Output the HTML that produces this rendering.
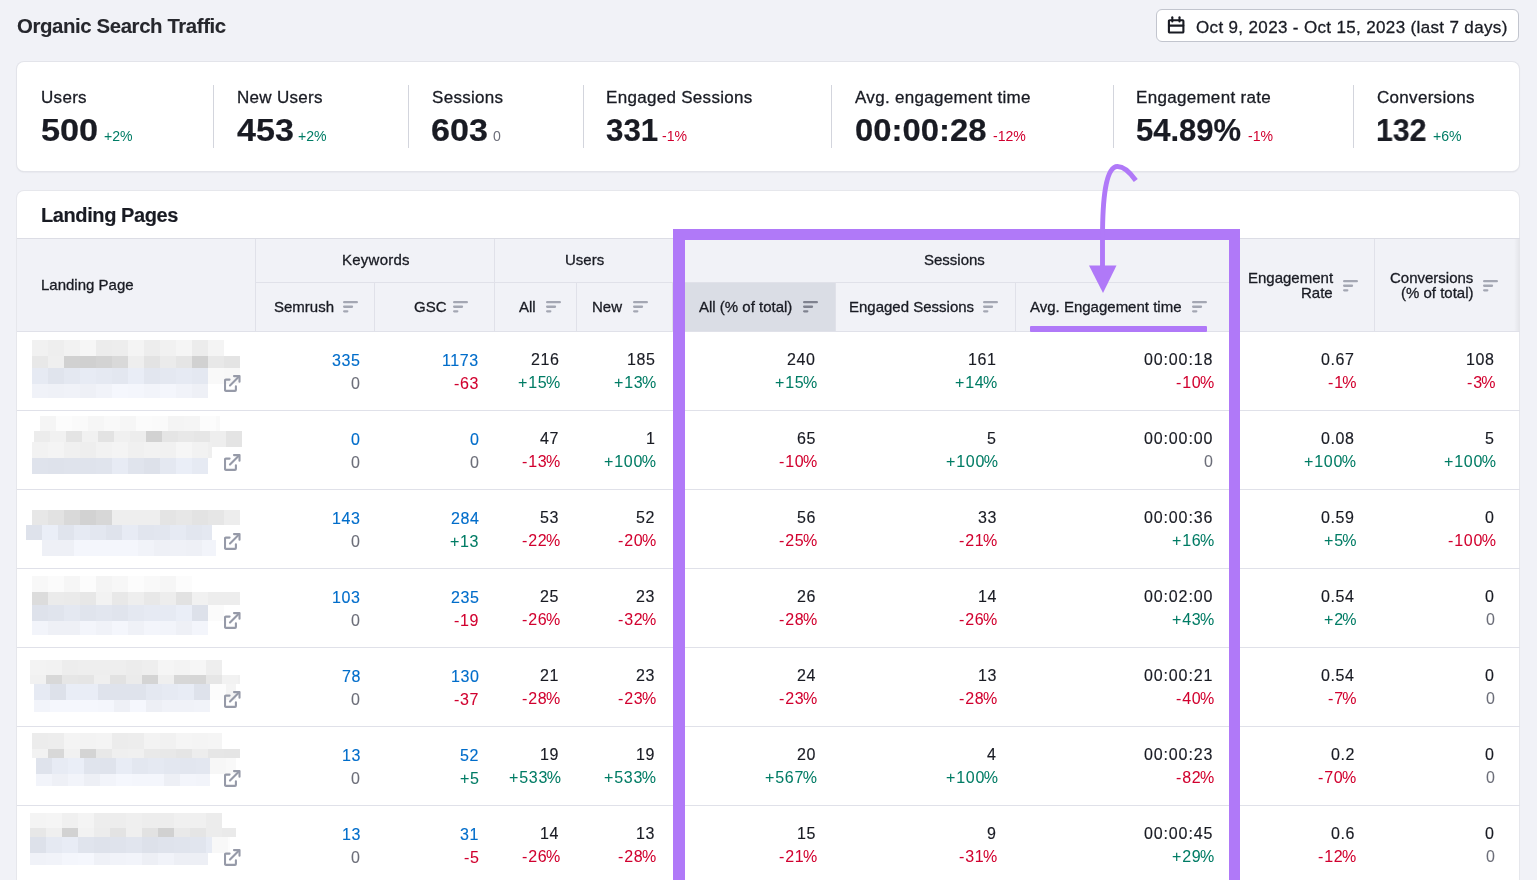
<!DOCTYPE html>
<html><head><meta charset="utf-8"><title>Organic Search Traffic</title>
<style>
html,body{margin:0;padding:0;}
body{width:1537px;height:880px;overflow:hidden;position:relative;background:#f1f2f7;font-family:"Liberation Sans", sans-serif;}
.t{position:absolute;white-space:nowrap;will-change:transform;}
.r{position:absolute;}
</style></head><body>
<div class="t" style="left:17px;top:16.03px;font-size:20.4px;line-height:20.4px;color:#26272d;font-weight:bold;letter-spacing:-0.4px;-webkit-text-stroke:0.1px #26272d;">Organic Search Traffic</div>
<div class="r" style="left:1156px;top:9px;width:361px;height:31px;border:1px solid #c2c5ce;border-radius:6px;background:#fff"></div>
<svg class="r" style="left:1167px;top:16px" width="19" height="19" viewBox="0 0 19 19"><g fill="none" stroke="#191b23" stroke-width="2.1" stroke-linecap="round"><rect x="1.9" y="4.3" width="14.5" height="12.2" rx="0.8"/><line x1="2" y1="9.6" x2="16.3" y2="9.6"/><line x1="5.3" y1="1.2" x2="5.3" y2="5.5"/><line x1="12.5" y1="1.2" x2="12.5" y2="5.5"/></g></svg>
<div class="t" style="left:1195.5px;top:18.61px;font-size:17px;line-height:17px;color:#191b23;font-weight:normal;letter-spacing:0.35px;-webkit-text-stroke:0.3px #191b23;">Oct 9, 2023 - Oct 15, 2023 (last 7 days)</div>
<div class="r" style="left:17px;top:62px;width:1502px;height:109px;background:#fff;border-radius:7px;box-shadow:0 0 0 1px #e3e4ea, 0 1px 2px rgba(25,27,35,0.12)"></div>
<div class="t" style="left:41.4px;top:88.71px;font-size:17px;line-height:17px;color:#191b23;font-weight:normal;letter-spacing:0.3px;-webkit-text-stroke:0.3px #191b23;">Users</div>
<div class="t" style="left:41.4px;top:114.96px;font-size:31px;line-height:31px;color:#191b23;font-weight:bold;-webkit-text-stroke:0.2px #191b23;transform:scaleX(1.105);transform-origin:0 0;">500</div>
<div class="t" style="left:104.3px;top:129.26px;font-size:14.1px;line-height:14.1px;color:#007c65;font-weight:normal;">+2%</div>
<div class="t" style="left:236.6px;top:88.71px;font-size:17px;line-height:17px;color:#191b23;font-weight:normal;letter-spacing:0.3px;-webkit-text-stroke:0.3px #191b23;">New Users</div>
<div class="t" style="left:236.6px;top:114.96px;font-size:31px;line-height:31px;color:#191b23;font-weight:bold;-webkit-text-stroke:0.2px #191b23;transform:scaleX(1.1);transform-origin:0 0;">453</div>
<div class="t" style="left:298.1px;top:129.26px;font-size:14.1px;line-height:14.1px;color:#007c65;font-weight:normal;">+2%</div>
<div class="t" style="left:431.7px;top:88.71px;font-size:17px;line-height:17px;color:#191b23;font-weight:normal;letter-spacing:0.3px;-webkit-text-stroke:0.3px #191b23;">Sessions</div>
<div class="t" style="left:430.7px;top:114.96px;font-size:31px;line-height:31px;color:#191b23;font-weight:bold;-webkit-text-stroke:0.2px #191b23;transform:scaleX(1.1);transform-origin:0 0;">603</div>
<div class="t" style="left:493.2px;top:129.26px;font-size:14.1px;line-height:14.1px;color:#6c6e79;font-weight:normal;">0</div>
<div class="t" style="left:606.4px;top:88.71px;font-size:17px;line-height:17px;color:#191b23;font-weight:normal;letter-spacing:0.3px;-webkit-text-stroke:0.3px #191b23;">Engaged Sessions</div>
<div class="t" style="left:606.4px;top:114.96px;font-size:31px;line-height:31px;color:#191b23;font-weight:bold;-webkit-text-stroke:0.2px #191b23;transform:scaleX(1.01);transform-origin:0 0;">331</div>
<div class="t" style="left:662.2px;top:129.26px;font-size:14.1px;line-height:14.1px;color:#d1002f;font-weight:normal;">-1%</div>
<div class="t" style="left:855px;top:88.71px;font-size:17px;line-height:17px;color:#191b23;font-weight:normal;letter-spacing:0.3px;-webkit-text-stroke:0.3px #191b23;">Avg. engagement time</div>
<div class="t" style="left:855px;top:114.96px;font-size:31px;line-height:31px;color:#191b23;font-weight:bold;-webkit-text-stroke:0.2px #191b23;transform:scaleX(1.06);transform-origin:0 0;">00:00:28</div>
<div class="t" style="left:992.5px;top:129.26px;font-size:14.1px;line-height:14.1px;color:#d1002f;font-weight:normal;">-12%</div>
<div class="t" style="left:1136px;top:88.71px;font-size:17px;line-height:17px;color:#191b23;font-weight:normal;letter-spacing:0.3px;-webkit-text-stroke:0.3px #191b23;">Engagement rate</div>
<div class="t" style="left:1136px;top:114.96px;font-size:31px;line-height:31px;color:#191b23;font-weight:bold;-webkit-text-stroke:0.2px #191b23;transform:scaleX(1.0);transform-origin:0 0;">54.89%</div>
<div class="t" style="left:1248px;top:129.26px;font-size:14.1px;line-height:14.1px;color:#d1002f;font-weight:normal;">-1%</div>
<div class="t" style="left:1376.8px;top:88.71px;font-size:17px;line-height:17px;color:#191b23;font-weight:normal;letter-spacing:0.3px;-webkit-text-stroke:0.3px #191b23;">Conversions</div>
<div class="t" style="left:1375.8px;top:114.96px;font-size:31px;line-height:31px;color:#191b23;font-weight:bold;-webkit-text-stroke:0.2px #191b23;transform:scaleX(0.975);transform-origin:0 0;">132</div>
<div class="t" style="left:1432.6px;top:129.26px;font-size:14.1px;line-height:14.1px;color:#007c65;font-weight:normal;">+6%</div>
<div class="r" style="left:213px;top:85px;width:1px;height:63px;background:#d3d5dd;"></div>
<div class="r" style="left:408px;top:85px;width:1px;height:63px;background:#d3d5dd;"></div>
<div class="r" style="left:583px;top:85px;width:1px;height:63px;background:#d3d5dd;"></div>
<div class="r" style="left:831px;top:85px;width:1px;height:63px;background:#d3d5dd;"></div>
<div class="r" style="left:1113px;top:85px;width:1px;height:63px;background:#d3d5dd;"></div>
<div class="r" style="left:1353px;top:85px;width:1px;height:63px;background:#d3d5dd;"></div>
<div class="r" style="left:17px;top:191px;width:1502px;height:720px;background:#fff;border-radius:7px;box-shadow:0 0 0 1px #e6e7ec"></div>
<div class="t" style="left:41.3px;top:204.97px;font-size:20px;line-height:20px;color:#191b23;font-weight:bold;letter-spacing:-0.4px;-webkit-text-stroke:0.15px #191b23;">Landing Pages</div>
<div class="r" style="left:17px;top:239px;width:1503px;height:92px;background:#f1f2f7;"></div>
<div class="r" style="left:17px;top:238px;width:1503px;height:1px;background:#dcdde5;"></div>
<div class="r" style="left:17px;top:331px;width:1503px;height:1px;background:#e0e1e9;"></div>
<div class="r" style="left:256px;top:282px;width:978px;height:1px;background:#e0e1e9;"></div>
<div class="r" style="left:684px;top:283px;width:151px;height:48px;background:#dadde5;"></div>
<div class="r" style="left:255px;top:239px;width:1px;height:92px;background:#e0e1e9;"></div>
<div class="r" style="left:494px;top:239px;width:1px;height:92px;background:#e0e1e9;"></div>
<div class="r" style="left:1231px;top:239px;width:1px;height:92px;background:#e0e1e9;"></div>
<div class="r" style="left:1374px;top:239px;width:1px;height:92px;background:#e0e1e9;"></div>
<div class="r" style="left:374px;top:283px;width:1px;height:48px;background:#e0e1e9;"></div>
<div class="r" style="left:576px;top:283px;width:1px;height:48px;background:#e0e1e9;"></div>
<div class="r" style="left:672px;top:283px;width:1px;height:48px;background:#e0e1e9;"></div>
<div class="r" style="left:835px;top:283px;width:1px;height:48px;background:#e0e1e9;"></div>
<div class="r" style="left:1015px;top:283px;width:1px;height:48px;background:#e0e1e9;"></div>
<div class="r" style="left:1514px;top:239px;width:6px;height:92px;background:linear-gradient(to right, rgba(0,0,0,0), rgba(0,0,0,0.06))"></div>
<div class="t" style="left:41.3px;top:276.60px;font-size:15px;line-height:15px;color:#191b23;font-weight:normal;-webkit-text-stroke:0.3px #191b23;">Landing Page</div>
<div class="t" style="left:341.5px;top:252.10px;font-size:15px;line-height:15px;color:#191b23;font-weight:normal;letter-spacing:0.25px;-webkit-text-stroke:0.3px #191b23;">Keywords</div>
<div class="t" style="left:564.5px;top:252.30px;font-size:15px;line-height:15px;color:#191b23;font-weight:normal;-webkit-text-stroke:0.3px #191b23;">Users</div>
<div class="t" style="left:923.5px;top:252.30px;font-size:15px;line-height:15px;color:#191b23;font-weight:normal;-webkit-text-stroke:0.3px #191b23;">Sessions</div>
<div class="t" style="left:273.8px;top:299.30px;font-size:15px;line-height:15px;color:#191b23;font-weight:normal;-webkit-text-stroke:0.3px #191b23;">Semrush</div>
<svg class="r" style="left:342.5px;top:301.4px" width="15" height="13" viewBox="0 0 15 13"><g stroke="#a4a7b3" stroke-width="2.3" stroke-linecap="round"><line x1="1.15" y1="1.15" x2="13.85" y2="1.15"/><line x1="1.15" y1="5.75" x2="9" y2="5.75"/><line x1="1.15" y1="10.35" x2="4.3" y2="10.35"/></g></svg>
<div class="t" style="left:413.8px;top:299.30px;font-size:15px;line-height:15px;color:#191b23;font-weight:normal;-webkit-text-stroke:0.3px #191b23;">GSC</div>
<svg class="r" style="left:453.3px;top:301.4px" width="15" height="13" viewBox="0 0 15 13"><g stroke="#a4a7b3" stroke-width="2.3" stroke-linecap="round"><line x1="1.15" y1="1.15" x2="13.85" y2="1.15"/><line x1="1.15" y1="5.75" x2="9" y2="5.75"/><line x1="1.15" y1="10.35" x2="4.3" y2="10.35"/></g></svg>
<div class="t" style="left:519px;top:299.30px;font-size:15px;line-height:15px;color:#191b23;font-weight:normal;-webkit-text-stroke:0.3px #191b23;">All</div>
<svg class="r" style="left:545.5px;top:301.4px" width="15" height="13" viewBox="0 0 15 13"><g stroke="#a4a7b3" stroke-width="2.3" stroke-linecap="round"><line x1="1.15" y1="1.15" x2="13.85" y2="1.15"/><line x1="1.15" y1="5.75" x2="9" y2="5.75"/><line x1="1.15" y1="10.35" x2="4.3" y2="10.35"/></g></svg>
<div class="t" style="left:592px;top:299.30px;font-size:15px;line-height:15px;color:#191b23;font-weight:normal;-webkit-text-stroke:0.3px #191b23;">New</div>
<svg class="r" style="left:632.8px;top:301.4px" width="15" height="13" viewBox="0 0 15 13"><g stroke="#a4a7b3" stroke-width="2.3" stroke-linecap="round"><line x1="1.15" y1="1.15" x2="13.85" y2="1.15"/><line x1="1.15" y1="5.75" x2="9" y2="5.75"/><line x1="1.15" y1="10.35" x2="4.3" y2="10.35"/></g></svg>
<div class="t" style="left:698.6px;top:299.30px;font-size:15px;line-height:15px;color:#191b23;font-weight:normal;-webkit-text-stroke:0.3px #191b23;">All (% of total)</div>
<svg class="r" style="left:802.5px;top:301.4px" width="15" height="13" viewBox="0 0 15 13"><g stroke="#7f828f" stroke-width="2.3" stroke-linecap="round"><line x1="1.15" y1="1.15" x2="13.85" y2="1.15"/><line x1="1.15" y1="5.75" x2="9" y2="5.75"/><line x1="1.15" y1="10.35" x2="4.3" y2="10.35"/></g></svg>
<div class="t" style="left:849.3px;top:299.30px;font-size:15px;line-height:15px;color:#191b23;font-weight:normal;-webkit-text-stroke:0.3px #191b23;">Engaged Sessions</div>
<svg class="r" style="left:983.2px;top:301.4px" width="15" height="13" viewBox="0 0 15 13"><g stroke="#a4a7b3" stroke-width="2.3" stroke-linecap="round"><line x1="1.15" y1="1.15" x2="13.85" y2="1.15"/><line x1="1.15" y1="5.75" x2="9" y2="5.75"/><line x1="1.15" y1="10.35" x2="4.3" y2="10.35"/></g></svg>
<div class="t" style="left:1030px;top:299.30px;font-size:15px;line-height:15px;color:#191b23;font-weight:normal;-webkit-text-stroke:0.3px #191b23;">Avg. Engagement time</div>
<svg class="r" style="left:1191.7px;top:301.4px" width="15" height="13" viewBox="0 0 15 13"><g stroke="#a4a7b3" stroke-width="2.3" stroke-linecap="round"><line x1="1.15" y1="1.15" x2="13.85" y2="1.15"/><line x1="1.15" y1="5.75" x2="9" y2="5.75"/><line x1="1.15" y1="10.35" x2="4.3" y2="10.35"/></g></svg>
<div class="t" style="right:203.90px;text-align:right;top:270.20px;font-size:15px;line-height:15px;color:#191b23;font-weight:normal;-webkit-text-stroke:0.3px #191b23;">Engagement</div>
<div class="t" style="right:203.90px;text-align:right;top:285.10px;font-size:15px;line-height:15px;color:#191b23;font-weight:normal;-webkit-text-stroke:0.3px #191b23;">Rate</div>
<svg class="r" style="left:1343px;top:279.8px" width="15" height="13" viewBox="0 0 15 13"><g stroke="#a4a7b3" stroke-width="2.3" stroke-linecap="round"><line x1="1.15" y1="1.15" x2="13.85" y2="1.15"/><line x1="1.15" y1="5.75" x2="9" y2="5.75"/><line x1="1.15" y1="10.35" x2="4.3" y2="10.35"/></g></svg>
<div class="t" style="right:63.60px;text-align:right;top:270.20px;font-size:15px;line-height:15px;color:#191b23;font-weight:normal;-webkit-text-stroke:0.3px #191b23;">Conversions</div>
<div class="t" style="right:63.60px;text-align:right;top:285.10px;font-size:15px;line-height:15px;color:#191b23;font-weight:normal;-webkit-text-stroke:0.3px #191b23;">(% of total)</div>
<svg class="r" style="left:1482.7px;top:279.8px" width="15" height="13" viewBox="0 0 15 13"><g stroke="#a4a7b3" stroke-width="2.3" stroke-linecap="round"><line x1="1.15" y1="1.15" x2="13.85" y2="1.15"/><line x1="1.15" y1="5.75" x2="9" y2="5.75"/><line x1="1.15" y1="10.35" x2="4.3" y2="10.35"/></g></svg>
<div class="t" style="right:1176.40px;text-align:right;top:352.96px;font-size:16px;line-height:16px;color:#006dca;font-weight:normal;letter-spacing:0.6px;-webkit-text-stroke:0.15px #006dca;">335</div>
<div class="t" style="right:1176.40px;text-align:right;top:376.46px;font-size:16px;line-height:16px;color:#6c6e79;font-weight:normal;letter-spacing:0.6px;-webkit-text-stroke:0.1px #6c6e79;">0</div>
<div class="t" style="right:1057.90px;text-align:right;top:352.96px;font-size:16px;line-height:16px;color:#006dca;font-weight:normal;letter-spacing:0.6px;-webkit-text-stroke:0.15px #006dca;">1173</div>
<div class="t" style="right:1057.90px;text-align:right;top:376.46px;font-size:16px;line-height:16px;color:#d1002f;font-weight:normal;letter-spacing:0.6px;-webkit-text-stroke:0.1px #d1002f;">-63</div>
<div class="t" style="right:977.60px;text-align:right;top:351.86px;font-size:16px;line-height:16px;color:#191b23;font-weight:normal;letter-spacing:0.6px;-webkit-text-stroke:0.15px #191b23;">216</div>
<div class="t" style="right:976.60px;text-align:right;top:374.76px;font-size:16px;line-height:16px;color:#007c65;font-weight:normal;-webkit-text-stroke:0.05px #007c65;"><span style="letter-spacing:0.8px">+15</span><span style="margin-left:-1.6px">%</span></div>
<div class="t" style="right:882.00px;text-align:right;top:351.86px;font-size:16px;line-height:16px;color:#191b23;font-weight:normal;letter-spacing:0.6px;-webkit-text-stroke:0.15px #191b23;">185</div>
<div class="t" style="right:881.00px;text-align:right;top:374.76px;font-size:16px;line-height:16px;color:#007c65;font-weight:normal;-webkit-text-stroke:0.05px #007c65;"><span style="letter-spacing:0.8px">+13</span><span style="margin-left:-1.6px">%</span></div>
<div class="t" style="right:721.20px;text-align:right;top:351.86px;font-size:16px;line-height:16px;color:#191b23;font-weight:normal;letter-spacing:0.6px;-webkit-text-stroke:0.15px #191b23;">240</div>
<div class="t" style="right:720.20px;text-align:right;top:374.76px;font-size:16px;line-height:16px;color:#007c65;font-weight:normal;-webkit-text-stroke:0.05px #007c65;"><span style="letter-spacing:0.8px">+15</span><span style="margin-left:-1.6px">%</span></div>
<div class="t" style="right:540.50px;text-align:right;top:351.86px;font-size:16px;line-height:16px;color:#191b23;font-weight:normal;letter-spacing:0.6px;-webkit-text-stroke:0.15px #191b23;">161</div>
<div class="t" style="right:539.50px;text-align:right;top:374.76px;font-size:16px;line-height:16px;color:#007c65;font-weight:normal;-webkit-text-stroke:0.05px #007c65;"><span style="letter-spacing:0.8px">+14</span><span style="margin-left:-1.6px">%</span></div>
<div class="t" style="right:323.43px;text-align:right;top:351.86px;font-size:16px;line-height:16px;color:#191b23;font-weight:normal;letter-spacing:0.87px;-webkit-text-stroke:0.15px #191b23;">00:00:18</div>
<div class="t" style="right:322.70px;text-align:right;top:374.76px;font-size:16px;line-height:16px;color:#d1002f;font-weight:normal;-webkit-text-stroke:0.05px #d1002f;"><span style="letter-spacing:0.8px">-10</span><span style="margin-left:-1.6px">%</span></div>
<div class="t" style="right:182.00px;text-align:right;top:351.86px;font-size:16px;line-height:16px;color:#191b23;font-weight:normal;letter-spacing:0.6px;-webkit-text-stroke:0.15px #191b23;">0.67</div>
<div class="t" style="right:181.00px;text-align:right;top:374.76px;font-size:16px;line-height:16px;color:#d1002f;font-weight:normal;-webkit-text-stroke:0.05px #d1002f;"><span style="letter-spacing:0.8px">-1</span><span style="margin-left:-1.6px">%</span></div>
<div class="t" style="right:42.50px;text-align:right;top:351.86px;font-size:16px;line-height:16px;color:#191b23;font-weight:normal;letter-spacing:0.6px;-webkit-text-stroke:0.15px #191b23;">108</div>
<div class="t" style="right:41.50px;text-align:right;top:374.76px;font-size:16px;line-height:16px;color:#d1002f;font-weight:normal;-webkit-text-stroke:0.05px #d1002f;"><span style="letter-spacing:0.8px">-3</span><span style="margin-left:-1.6px">%</span></div>
<div class="r" style="left:17px;top:410px;width:1503px;height:1px;background:#e0e1e9;"></div>
<div class="t" style="right:1176.40px;text-align:right;top:431.96px;font-size:16px;line-height:16px;color:#006dca;font-weight:normal;letter-spacing:0.6px;-webkit-text-stroke:0.15px #006dca;">0</div>
<div class="t" style="right:1176.40px;text-align:right;top:455.46px;font-size:16px;line-height:16px;color:#6c6e79;font-weight:normal;letter-spacing:0.6px;-webkit-text-stroke:0.1px #6c6e79;">0</div>
<div class="t" style="right:1057.90px;text-align:right;top:431.96px;font-size:16px;line-height:16px;color:#006dca;font-weight:normal;letter-spacing:0.6px;-webkit-text-stroke:0.15px #006dca;">0</div>
<div class="t" style="right:1057.90px;text-align:right;top:455.46px;font-size:16px;line-height:16px;color:#6c6e79;font-weight:normal;letter-spacing:0.6px;-webkit-text-stroke:0.1px #6c6e79;">0</div>
<div class="t" style="right:977.60px;text-align:right;top:430.86px;font-size:16px;line-height:16px;color:#191b23;font-weight:normal;letter-spacing:0.6px;-webkit-text-stroke:0.15px #191b23;">47</div>
<div class="t" style="right:976.60px;text-align:right;top:453.76px;font-size:16px;line-height:16px;color:#d1002f;font-weight:normal;-webkit-text-stroke:0.05px #d1002f;"><span style="letter-spacing:0.8px">-13</span><span style="margin-left:-1.6px">%</span></div>
<div class="t" style="right:882.00px;text-align:right;top:430.86px;font-size:16px;line-height:16px;color:#191b23;font-weight:normal;letter-spacing:0.6px;-webkit-text-stroke:0.15px #191b23;">1</div>
<div class="t" style="right:881.00px;text-align:right;top:453.76px;font-size:16px;line-height:16px;color:#007c65;font-weight:normal;-webkit-text-stroke:0.05px #007c65;"><span style="letter-spacing:0.8px">+100</span><span style="margin-left:-1.6px">%</span></div>
<div class="t" style="right:721.20px;text-align:right;top:430.86px;font-size:16px;line-height:16px;color:#191b23;font-weight:normal;letter-spacing:0.6px;-webkit-text-stroke:0.15px #191b23;">65</div>
<div class="t" style="right:720.20px;text-align:right;top:453.76px;font-size:16px;line-height:16px;color:#d1002f;font-weight:normal;-webkit-text-stroke:0.05px #d1002f;"><span style="letter-spacing:0.8px">-10</span><span style="margin-left:-1.6px">%</span></div>
<div class="t" style="right:540.50px;text-align:right;top:430.86px;font-size:16px;line-height:16px;color:#191b23;font-weight:normal;letter-spacing:0.6px;-webkit-text-stroke:0.15px #191b23;">5</div>
<div class="t" style="right:539.50px;text-align:right;top:453.76px;font-size:16px;line-height:16px;color:#007c65;font-weight:normal;-webkit-text-stroke:0.05px #007c65;"><span style="letter-spacing:0.8px">+100</span><span style="margin-left:-1.6px">%</span></div>
<div class="t" style="right:323.43px;text-align:right;top:430.86px;font-size:16px;line-height:16px;color:#191b23;font-weight:normal;letter-spacing:0.87px;-webkit-text-stroke:0.15px #191b23;">00:00:00</div>
<div class="t" style="right:323.10px;text-align:right;top:453.76px;font-size:16px;line-height:16px;color:#6c6e79;font-weight:normal;letter-spacing:0.6px;-webkit-text-stroke:0.05px #6c6e79;">0</div>
<div class="t" style="right:182.00px;text-align:right;top:430.86px;font-size:16px;line-height:16px;color:#191b23;font-weight:normal;letter-spacing:0.6px;-webkit-text-stroke:0.15px #191b23;">0.08</div>
<div class="t" style="right:181.00px;text-align:right;top:453.76px;font-size:16px;line-height:16px;color:#007c65;font-weight:normal;-webkit-text-stroke:0.05px #007c65;"><span style="letter-spacing:0.8px">+100</span><span style="margin-left:-1.6px">%</span></div>
<div class="t" style="right:42.50px;text-align:right;top:430.86px;font-size:16px;line-height:16px;color:#191b23;font-weight:normal;letter-spacing:0.6px;-webkit-text-stroke:0.15px #191b23;">5</div>
<div class="t" style="right:41.50px;text-align:right;top:453.76px;font-size:16px;line-height:16px;color:#007c65;font-weight:normal;-webkit-text-stroke:0.05px #007c65;"><span style="letter-spacing:0.8px">+100</span><span style="margin-left:-1.6px">%</span></div>
<div class="r" style="left:17px;top:489px;width:1503px;height:1px;background:#e0e1e9;"></div>
<div class="t" style="right:1176.40px;text-align:right;top:510.96px;font-size:16px;line-height:16px;color:#006dca;font-weight:normal;letter-spacing:0.6px;-webkit-text-stroke:0.15px #006dca;">143</div>
<div class="t" style="right:1176.40px;text-align:right;top:534.46px;font-size:16px;line-height:16px;color:#6c6e79;font-weight:normal;letter-spacing:0.6px;-webkit-text-stroke:0.1px #6c6e79;">0</div>
<div class="t" style="right:1057.90px;text-align:right;top:510.96px;font-size:16px;line-height:16px;color:#006dca;font-weight:normal;letter-spacing:0.6px;-webkit-text-stroke:0.15px #006dca;">284</div>
<div class="t" style="right:1057.90px;text-align:right;top:534.46px;font-size:16px;line-height:16px;color:#007c65;font-weight:normal;letter-spacing:0.6px;-webkit-text-stroke:0.1px #007c65;">+13</div>
<div class="t" style="right:977.60px;text-align:right;top:509.86px;font-size:16px;line-height:16px;color:#191b23;font-weight:normal;letter-spacing:0.6px;-webkit-text-stroke:0.15px #191b23;">53</div>
<div class="t" style="right:976.60px;text-align:right;top:532.76px;font-size:16px;line-height:16px;color:#d1002f;font-weight:normal;-webkit-text-stroke:0.05px #d1002f;"><span style="letter-spacing:0.8px">-22</span><span style="margin-left:-1.6px">%</span></div>
<div class="t" style="right:882.00px;text-align:right;top:509.86px;font-size:16px;line-height:16px;color:#191b23;font-weight:normal;letter-spacing:0.6px;-webkit-text-stroke:0.15px #191b23;">52</div>
<div class="t" style="right:881.00px;text-align:right;top:532.76px;font-size:16px;line-height:16px;color:#d1002f;font-weight:normal;-webkit-text-stroke:0.05px #d1002f;"><span style="letter-spacing:0.8px">-20</span><span style="margin-left:-1.6px">%</span></div>
<div class="t" style="right:721.20px;text-align:right;top:509.86px;font-size:16px;line-height:16px;color:#191b23;font-weight:normal;letter-spacing:0.6px;-webkit-text-stroke:0.15px #191b23;">56</div>
<div class="t" style="right:720.20px;text-align:right;top:532.76px;font-size:16px;line-height:16px;color:#d1002f;font-weight:normal;-webkit-text-stroke:0.05px #d1002f;"><span style="letter-spacing:0.8px">-25</span><span style="margin-left:-1.6px">%</span></div>
<div class="t" style="right:540.50px;text-align:right;top:509.86px;font-size:16px;line-height:16px;color:#191b23;font-weight:normal;letter-spacing:0.6px;-webkit-text-stroke:0.15px #191b23;">33</div>
<div class="t" style="right:539.50px;text-align:right;top:532.76px;font-size:16px;line-height:16px;color:#d1002f;font-weight:normal;-webkit-text-stroke:0.05px #d1002f;"><span style="letter-spacing:0.8px">-21</span><span style="margin-left:-1.6px">%</span></div>
<div class="t" style="right:323.43px;text-align:right;top:509.86px;font-size:16px;line-height:16px;color:#191b23;font-weight:normal;letter-spacing:0.87px;-webkit-text-stroke:0.15px #191b23;">00:00:36</div>
<div class="t" style="right:322.70px;text-align:right;top:532.76px;font-size:16px;line-height:16px;color:#007c65;font-weight:normal;-webkit-text-stroke:0.05px #007c65;"><span style="letter-spacing:0.8px">+16</span><span style="margin-left:-1.6px">%</span></div>
<div class="t" style="right:182.00px;text-align:right;top:509.86px;font-size:16px;line-height:16px;color:#191b23;font-weight:normal;letter-spacing:0.6px;-webkit-text-stroke:0.15px #191b23;">0.59</div>
<div class="t" style="right:181.00px;text-align:right;top:532.76px;font-size:16px;line-height:16px;color:#007c65;font-weight:normal;-webkit-text-stroke:0.05px #007c65;"><span style="letter-spacing:0.8px">+5</span><span style="margin-left:-1.6px">%</span></div>
<div class="t" style="right:42.50px;text-align:right;top:509.86px;font-size:16px;line-height:16px;color:#191b23;font-weight:normal;letter-spacing:0.6px;-webkit-text-stroke:0.15px #191b23;">0</div>
<div class="t" style="right:41.50px;text-align:right;top:532.76px;font-size:16px;line-height:16px;color:#d1002f;font-weight:normal;-webkit-text-stroke:0.05px #d1002f;"><span style="letter-spacing:0.8px">-100</span><span style="margin-left:-1.6px">%</span></div>
<div class="r" style="left:17px;top:568px;width:1503px;height:1px;background:#e0e1e9;"></div>
<div class="t" style="right:1176.40px;text-align:right;top:589.96px;font-size:16px;line-height:16px;color:#006dca;font-weight:normal;letter-spacing:0.6px;-webkit-text-stroke:0.15px #006dca;">103</div>
<div class="t" style="right:1176.40px;text-align:right;top:613.46px;font-size:16px;line-height:16px;color:#6c6e79;font-weight:normal;letter-spacing:0.6px;-webkit-text-stroke:0.1px #6c6e79;">0</div>
<div class="t" style="right:1057.90px;text-align:right;top:589.96px;font-size:16px;line-height:16px;color:#006dca;font-weight:normal;letter-spacing:0.6px;-webkit-text-stroke:0.15px #006dca;">235</div>
<div class="t" style="right:1057.90px;text-align:right;top:613.46px;font-size:16px;line-height:16px;color:#d1002f;font-weight:normal;letter-spacing:0.6px;-webkit-text-stroke:0.1px #d1002f;">-19</div>
<div class="t" style="right:977.60px;text-align:right;top:588.86px;font-size:16px;line-height:16px;color:#191b23;font-weight:normal;letter-spacing:0.6px;-webkit-text-stroke:0.15px #191b23;">25</div>
<div class="t" style="right:976.60px;text-align:right;top:611.76px;font-size:16px;line-height:16px;color:#d1002f;font-weight:normal;-webkit-text-stroke:0.05px #d1002f;"><span style="letter-spacing:0.8px">-26</span><span style="margin-left:-1.6px">%</span></div>
<div class="t" style="right:882.00px;text-align:right;top:588.86px;font-size:16px;line-height:16px;color:#191b23;font-weight:normal;letter-spacing:0.6px;-webkit-text-stroke:0.15px #191b23;">23</div>
<div class="t" style="right:881.00px;text-align:right;top:611.76px;font-size:16px;line-height:16px;color:#d1002f;font-weight:normal;-webkit-text-stroke:0.05px #d1002f;"><span style="letter-spacing:0.8px">-32</span><span style="margin-left:-1.6px">%</span></div>
<div class="t" style="right:721.20px;text-align:right;top:588.86px;font-size:16px;line-height:16px;color:#191b23;font-weight:normal;letter-spacing:0.6px;-webkit-text-stroke:0.15px #191b23;">26</div>
<div class="t" style="right:720.20px;text-align:right;top:611.76px;font-size:16px;line-height:16px;color:#d1002f;font-weight:normal;-webkit-text-stroke:0.05px #d1002f;"><span style="letter-spacing:0.8px">-28</span><span style="margin-left:-1.6px">%</span></div>
<div class="t" style="right:540.50px;text-align:right;top:588.86px;font-size:16px;line-height:16px;color:#191b23;font-weight:normal;letter-spacing:0.6px;-webkit-text-stroke:0.15px #191b23;">14</div>
<div class="t" style="right:539.50px;text-align:right;top:611.76px;font-size:16px;line-height:16px;color:#d1002f;font-weight:normal;-webkit-text-stroke:0.05px #d1002f;"><span style="letter-spacing:0.8px">-26</span><span style="margin-left:-1.6px">%</span></div>
<div class="t" style="right:323.43px;text-align:right;top:588.86px;font-size:16px;line-height:16px;color:#191b23;font-weight:normal;letter-spacing:0.87px;-webkit-text-stroke:0.15px #191b23;">00:02:00</div>
<div class="t" style="right:322.70px;text-align:right;top:611.76px;font-size:16px;line-height:16px;color:#007c65;font-weight:normal;-webkit-text-stroke:0.05px #007c65;"><span style="letter-spacing:0.8px">+43</span><span style="margin-left:-1.6px">%</span></div>
<div class="t" style="right:182.00px;text-align:right;top:588.86px;font-size:16px;line-height:16px;color:#191b23;font-weight:normal;letter-spacing:0.6px;-webkit-text-stroke:0.15px #191b23;">0.54</div>
<div class="t" style="right:181.00px;text-align:right;top:611.76px;font-size:16px;line-height:16px;color:#007c65;font-weight:normal;-webkit-text-stroke:0.05px #007c65;"><span style="letter-spacing:0.8px">+2</span><span style="margin-left:-1.6px">%</span></div>
<div class="t" style="right:42.50px;text-align:right;top:588.86px;font-size:16px;line-height:16px;color:#191b23;font-weight:normal;letter-spacing:0.6px;-webkit-text-stroke:0.15px #191b23;">0</div>
<div class="t" style="right:41.90px;text-align:right;top:611.76px;font-size:16px;line-height:16px;color:#6c6e79;font-weight:normal;letter-spacing:0.6px;-webkit-text-stroke:0.05px #6c6e79;">0</div>
<div class="r" style="left:17px;top:647px;width:1503px;height:1px;background:#e0e1e9;"></div>
<div class="t" style="right:1176.40px;text-align:right;top:668.96px;font-size:16px;line-height:16px;color:#006dca;font-weight:normal;letter-spacing:0.6px;-webkit-text-stroke:0.15px #006dca;">78</div>
<div class="t" style="right:1176.40px;text-align:right;top:692.46px;font-size:16px;line-height:16px;color:#6c6e79;font-weight:normal;letter-spacing:0.6px;-webkit-text-stroke:0.1px #6c6e79;">0</div>
<div class="t" style="right:1057.90px;text-align:right;top:668.96px;font-size:16px;line-height:16px;color:#006dca;font-weight:normal;letter-spacing:0.6px;-webkit-text-stroke:0.15px #006dca;">130</div>
<div class="t" style="right:1057.90px;text-align:right;top:692.46px;font-size:16px;line-height:16px;color:#d1002f;font-weight:normal;letter-spacing:0.6px;-webkit-text-stroke:0.1px #d1002f;">-37</div>
<div class="t" style="right:977.60px;text-align:right;top:667.86px;font-size:16px;line-height:16px;color:#191b23;font-weight:normal;letter-spacing:0.6px;-webkit-text-stroke:0.15px #191b23;">21</div>
<div class="t" style="right:976.60px;text-align:right;top:690.76px;font-size:16px;line-height:16px;color:#d1002f;font-weight:normal;-webkit-text-stroke:0.05px #d1002f;"><span style="letter-spacing:0.8px">-28</span><span style="margin-left:-1.6px">%</span></div>
<div class="t" style="right:882.00px;text-align:right;top:667.86px;font-size:16px;line-height:16px;color:#191b23;font-weight:normal;letter-spacing:0.6px;-webkit-text-stroke:0.15px #191b23;">23</div>
<div class="t" style="right:881.00px;text-align:right;top:690.76px;font-size:16px;line-height:16px;color:#d1002f;font-weight:normal;-webkit-text-stroke:0.05px #d1002f;"><span style="letter-spacing:0.8px">-23</span><span style="margin-left:-1.6px">%</span></div>
<div class="t" style="right:721.20px;text-align:right;top:667.86px;font-size:16px;line-height:16px;color:#191b23;font-weight:normal;letter-spacing:0.6px;-webkit-text-stroke:0.15px #191b23;">24</div>
<div class="t" style="right:720.20px;text-align:right;top:690.76px;font-size:16px;line-height:16px;color:#d1002f;font-weight:normal;-webkit-text-stroke:0.05px #d1002f;"><span style="letter-spacing:0.8px">-23</span><span style="margin-left:-1.6px">%</span></div>
<div class="t" style="right:540.50px;text-align:right;top:667.86px;font-size:16px;line-height:16px;color:#191b23;font-weight:normal;letter-spacing:0.6px;-webkit-text-stroke:0.15px #191b23;">13</div>
<div class="t" style="right:539.50px;text-align:right;top:690.76px;font-size:16px;line-height:16px;color:#d1002f;font-weight:normal;-webkit-text-stroke:0.05px #d1002f;"><span style="letter-spacing:0.8px">-28</span><span style="margin-left:-1.6px">%</span></div>
<div class="t" style="right:323.43px;text-align:right;top:667.86px;font-size:16px;line-height:16px;color:#191b23;font-weight:normal;letter-spacing:0.87px;-webkit-text-stroke:0.15px #191b23;">00:00:21</div>
<div class="t" style="right:322.70px;text-align:right;top:690.76px;font-size:16px;line-height:16px;color:#d1002f;font-weight:normal;-webkit-text-stroke:0.05px #d1002f;"><span style="letter-spacing:0.8px">-40</span><span style="margin-left:-1.6px">%</span></div>
<div class="t" style="right:182.00px;text-align:right;top:667.86px;font-size:16px;line-height:16px;color:#191b23;font-weight:normal;letter-spacing:0.6px;-webkit-text-stroke:0.15px #191b23;">0.54</div>
<div class="t" style="right:181.00px;text-align:right;top:690.76px;font-size:16px;line-height:16px;color:#d1002f;font-weight:normal;-webkit-text-stroke:0.05px #d1002f;"><span style="letter-spacing:0.8px">-7</span><span style="margin-left:-1.6px">%</span></div>
<div class="t" style="right:42.50px;text-align:right;top:667.86px;font-size:16px;line-height:16px;color:#191b23;font-weight:normal;letter-spacing:0.6px;-webkit-text-stroke:0.15px #191b23;">0</div>
<div class="t" style="right:41.90px;text-align:right;top:690.76px;font-size:16px;line-height:16px;color:#6c6e79;font-weight:normal;letter-spacing:0.6px;-webkit-text-stroke:0.05px #6c6e79;">0</div>
<div class="r" style="left:17px;top:726px;width:1503px;height:1px;background:#e0e1e9;"></div>
<div class="t" style="right:1176.40px;text-align:right;top:747.96px;font-size:16px;line-height:16px;color:#006dca;font-weight:normal;letter-spacing:0.6px;-webkit-text-stroke:0.15px #006dca;">13</div>
<div class="t" style="right:1176.40px;text-align:right;top:771.46px;font-size:16px;line-height:16px;color:#6c6e79;font-weight:normal;letter-spacing:0.6px;-webkit-text-stroke:0.1px #6c6e79;">0</div>
<div class="t" style="right:1057.90px;text-align:right;top:747.96px;font-size:16px;line-height:16px;color:#006dca;font-weight:normal;letter-spacing:0.6px;-webkit-text-stroke:0.15px #006dca;">52</div>
<div class="t" style="right:1057.90px;text-align:right;top:771.46px;font-size:16px;line-height:16px;color:#007c65;font-weight:normal;letter-spacing:0.6px;-webkit-text-stroke:0.1px #007c65;">+5</div>
<div class="t" style="right:977.60px;text-align:right;top:746.86px;font-size:16px;line-height:16px;color:#191b23;font-weight:normal;letter-spacing:0.6px;-webkit-text-stroke:0.15px #191b23;">19</div>
<div class="t" style="right:976.60px;text-align:right;top:769.76px;font-size:16px;line-height:16px;color:#007c65;font-weight:normal;-webkit-text-stroke:0.05px #007c65;"><span style="letter-spacing:0.8px">+533</span><span style="margin-left:-1.6px">%</span></div>
<div class="t" style="right:882.00px;text-align:right;top:746.86px;font-size:16px;line-height:16px;color:#191b23;font-weight:normal;letter-spacing:0.6px;-webkit-text-stroke:0.15px #191b23;">19</div>
<div class="t" style="right:881.00px;text-align:right;top:769.76px;font-size:16px;line-height:16px;color:#007c65;font-weight:normal;-webkit-text-stroke:0.05px #007c65;"><span style="letter-spacing:0.8px">+533</span><span style="margin-left:-1.6px">%</span></div>
<div class="t" style="right:721.20px;text-align:right;top:746.86px;font-size:16px;line-height:16px;color:#191b23;font-weight:normal;letter-spacing:0.6px;-webkit-text-stroke:0.15px #191b23;">20</div>
<div class="t" style="right:720.20px;text-align:right;top:769.76px;font-size:16px;line-height:16px;color:#007c65;font-weight:normal;-webkit-text-stroke:0.05px #007c65;"><span style="letter-spacing:0.8px">+567</span><span style="margin-left:-1.6px">%</span></div>
<div class="t" style="right:540.50px;text-align:right;top:746.86px;font-size:16px;line-height:16px;color:#191b23;font-weight:normal;letter-spacing:0.6px;-webkit-text-stroke:0.15px #191b23;">4</div>
<div class="t" style="right:539.50px;text-align:right;top:769.76px;font-size:16px;line-height:16px;color:#007c65;font-weight:normal;-webkit-text-stroke:0.05px #007c65;"><span style="letter-spacing:0.8px">+100</span><span style="margin-left:-1.6px">%</span></div>
<div class="t" style="right:323.43px;text-align:right;top:746.86px;font-size:16px;line-height:16px;color:#191b23;font-weight:normal;letter-spacing:0.87px;-webkit-text-stroke:0.15px #191b23;">00:00:23</div>
<div class="t" style="right:322.70px;text-align:right;top:769.76px;font-size:16px;line-height:16px;color:#d1002f;font-weight:normal;-webkit-text-stroke:0.05px #d1002f;"><span style="letter-spacing:0.8px">-82</span><span style="margin-left:-1.6px">%</span></div>
<div class="t" style="right:182.00px;text-align:right;top:746.86px;font-size:16px;line-height:16px;color:#191b23;font-weight:normal;letter-spacing:0.6px;-webkit-text-stroke:0.15px #191b23;">0.2</div>
<div class="t" style="right:181.00px;text-align:right;top:769.76px;font-size:16px;line-height:16px;color:#d1002f;font-weight:normal;-webkit-text-stroke:0.05px #d1002f;"><span style="letter-spacing:0.8px">-70</span><span style="margin-left:-1.6px">%</span></div>
<div class="t" style="right:42.50px;text-align:right;top:746.86px;font-size:16px;line-height:16px;color:#191b23;font-weight:normal;letter-spacing:0.6px;-webkit-text-stroke:0.15px #191b23;">0</div>
<div class="t" style="right:41.90px;text-align:right;top:769.76px;font-size:16px;line-height:16px;color:#6c6e79;font-weight:normal;letter-spacing:0.6px;-webkit-text-stroke:0.05px #6c6e79;">0</div>
<div class="r" style="left:17px;top:805px;width:1503px;height:1px;background:#e0e1e9;"></div>
<div class="t" style="right:1176.40px;text-align:right;top:826.96px;font-size:16px;line-height:16px;color:#006dca;font-weight:normal;letter-spacing:0.6px;-webkit-text-stroke:0.15px #006dca;">13</div>
<div class="t" style="right:1176.40px;text-align:right;top:850.46px;font-size:16px;line-height:16px;color:#6c6e79;font-weight:normal;letter-spacing:0.6px;-webkit-text-stroke:0.1px #6c6e79;">0</div>
<div class="t" style="right:1057.90px;text-align:right;top:826.96px;font-size:16px;line-height:16px;color:#006dca;font-weight:normal;letter-spacing:0.6px;-webkit-text-stroke:0.15px #006dca;">31</div>
<div class="t" style="right:1057.90px;text-align:right;top:850.46px;font-size:16px;line-height:16px;color:#d1002f;font-weight:normal;letter-spacing:0.6px;-webkit-text-stroke:0.1px #d1002f;">-5</div>
<div class="t" style="right:977.60px;text-align:right;top:825.86px;font-size:16px;line-height:16px;color:#191b23;font-weight:normal;letter-spacing:0.6px;-webkit-text-stroke:0.15px #191b23;">14</div>
<div class="t" style="right:976.60px;text-align:right;top:848.76px;font-size:16px;line-height:16px;color:#d1002f;font-weight:normal;-webkit-text-stroke:0.05px #d1002f;"><span style="letter-spacing:0.8px">-26</span><span style="margin-left:-1.6px">%</span></div>
<div class="t" style="right:882.00px;text-align:right;top:825.86px;font-size:16px;line-height:16px;color:#191b23;font-weight:normal;letter-spacing:0.6px;-webkit-text-stroke:0.15px #191b23;">13</div>
<div class="t" style="right:881.00px;text-align:right;top:848.76px;font-size:16px;line-height:16px;color:#d1002f;font-weight:normal;-webkit-text-stroke:0.05px #d1002f;"><span style="letter-spacing:0.8px">-28</span><span style="margin-left:-1.6px">%</span></div>
<div class="t" style="right:721.20px;text-align:right;top:825.86px;font-size:16px;line-height:16px;color:#191b23;font-weight:normal;letter-spacing:0.6px;-webkit-text-stroke:0.15px #191b23;">15</div>
<div class="t" style="right:720.20px;text-align:right;top:848.76px;font-size:16px;line-height:16px;color:#d1002f;font-weight:normal;-webkit-text-stroke:0.05px #d1002f;"><span style="letter-spacing:0.8px">-21</span><span style="margin-left:-1.6px">%</span></div>
<div class="t" style="right:540.50px;text-align:right;top:825.86px;font-size:16px;line-height:16px;color:#191b23;font-weight:normal;letter-spacing:0.6px;-webkit-text-stroke:0.15px #191b23;">9</div>
<div class="t" style="right:539.50px;text-align:right;top:848.76px;font-size:16px;line-height:16px;color:#d1002f;font-weight:normal;-webkit-text-stroke:0.05px #d1002f;"><span style="letter-spacing:0.8px">-31</span><span style="margin-left:-1.6px">%</span></div>
<div class="t" style="right:323.43px;text-align:right;top:825.86px;font-size:16px;line-height:16px;color:#191b23;font-weight:normal;letter-spacing:0.87px;-webkit-text-stroke:0.15px #191b23;">00:00:45</div>
<div class="t" style="right:322.70px;text-align:right;top:848.76px;font-size:16px;line-height:16px;color:#007c65;font-weight:normal;-webkit-text-stroke:0.05px #007c65;"><span style="letter-spacing:0.8px">+29</span><span style="margin-left:-1.6px">%</span></div>
<div class="t" style="right:182.00px;text-align:right;top:825.86px;font-size:16px;line-height:16px;color:#191b23;font-weight:normal;letter-spacing:0.6px;-webkit-text-stroke:0.15px #191b23;">0.6</div>
<div class="t" style="right:181.00px;text-align:right;top:848.76px;font-size:16px;line-height:16px;color:#d1002f;font-weight:normal;-webkit-text-stroke:0.05px #d1002f;"><span style="letter-spacing:0.8px">-12</span><span style="margin-left:-1.6px">%</span></div>
<div class="t" style="right:42.50px;text-align:right;top:825.86px;font-size:16px;line-height:16px;color:#191b23;font-weight:normal;letter-spacing:0.6px;-webkit-text-stroke:0.15px #191b23;">0</div>
<div class="t" style="right:41.90px;text-align:right;top:848.76px;font-size:16px;line-height:16px;color:#6c6e79;font-weight:normal;letter-spacing:0.6px;-webkit-text-stroke:0.05px #6c6e79;">0</div>
<div class="r" style="left:17px;top:884px;width:1503px;height:1px;background:#e0e1e9;"></div>
<div class="r" style="left:32px;top:340px;width:16px;height:16px;background:rgb(241,241,241);"></div>
<div class="r" style="left:48px;top:340px;width:16px;height:16px;background:rgb(238,238,238);"></div>
<div class="r" style="left:64px;top:340px;width:16px;height:16px;background:rgb(242,242,242);"></div>
<div class="r" style="left:80px;top:340px;width:16px;height:16px;background:rgb(246,246,246);"></div>
<div class="r" style="left:96px;top:340px;width:16px;height:16px;background:rgb(236,236,236);"></div>
<div class="r" style="left:112px;top:340px;width:16px;height:16px;background:rgb(237,237,237);"></div>
<div class="r" style="left:128px;top:340px;width:16px;height:16px;background:rgb(244,244,244);"></div>
<div class="r" style="left:144px;top:340px;width:16px;height:16px;background:rgb(237,237,237);"></div>
<div class="r" style="left:160px;top:340px;width:16px;height:16px;background:rgb(241,241,241);"></div>
<div class="r" style="left:176px;top:340px;width:16px;height:16px;background:rgb(245,245,245);"></div>
<div class="r" style="left:192px;top:340px;width:16px;height:16px;background:rgb(236,236,236);"></div>
<div class="r" style="left:208px;top:340px;width:16px;height:16px;background:rgb(244,244,244);"></div>
<div class="r" style="left:32px;top:356px;width:16px;height:12px;background:rgb(232,232,232);"></div>
<div class="r" style="left:48px;top:356px;width:16px;height:12px;background:rgb(239,239,239);"></div>
<div class="r" style="left:64px;top:356px;width:16px;height:12px;background:rgb(209,209,209);"></div>
<div class="r" style="left:80px;top:356px;width:16px;height:12px;background:rgb(208,208,208);"></div>
<div class="r" style="left:96px;top:356px;width:16px;height:12px;background:rgb(211,211,211);"></div>
<div class="r" style="left:112px;top:356px;width:16px;height:12px;background:rgb(217,217,217);"></div>
<div class="r" style="left:128px;top:356px;width:16px;height:12px;background:rgb(238,238,238);"></div>
<div class="r" style="left:144px;top:356px;width:16px;height:12px;background:rgb(227,227,227);"></div>
<div class="r" style="left:160px;top:356px;width:16px;height:12px;background:rgb(235,235,235);"></div>
<div class="r" style="left:176px;top:356px;width:16px;height:12px;background:rgb(229,229,229);"></div>
<div class="r" style="left:192px;top:356px;width:16px;height:12px;background:rgb(209,209,209);"></div>
<div class="r" style="left:208px;top:356px;width:16px;height:12px;background:rgb(232,232,232);"></div>
<div class="r" style="left:224px;top:356px;width:16px;height:12px;background:rgb(228,228,228);"></div>
<div class="r" style="left:32px;top:368px;width:16px;height:16px;background:rgb(230,234,243);"></div>
<div class="r" style="left:48px;top:368px;width:16px;height:16px;background:rgb(224,228,237);"></div>
<div class="r" style="left:64px;top:368px;width:16px;height:16px;background:rgb(228,232,241);"></div>
<div class="r" style="left:80px;top:368px;width:16px;height:16px;background:rgb(231,235,244);"></div>
<div class="r" style="left:96px;top:368px;width:16px;height:16px;background:rgb(229,233,242);"></div>
<div class="r" style="left:112px;top:368px;width:16px;height:16px;background:rgb(227,231,240);"></div>
<div class="r" style="left:128px;top:368px;width:16px;height:16px;background:rgb(233,237,246);"></div>
<div class="r" style="left:144px;top:368px;width:16px;height:16px;background:rgb(226,230,239);"></div>
<div class="r" style="left:160px;top:368px;width:16px;height:16px;background:rgb(228,232,241);"></div>
<div class="r" style="left:176px;top:368px;width:16px;height:16px;background:rgb(230,234,243);"></div>
<div class="r" style="left:192px;top:368px;width:16px;height:16px;background:rgb(228,232,241);"></div>
<div class="r" style="left:208px;top:368px;width:16px;height:16px;background:rgb(249,249,249);"></div>
<div class="r" style="left:224px;top:368px;width:16px;height:16px;background:rgb(248,248,248);"></div>
<div class="r" style="left:32px;top:384px;width:16px;height:14px;background:rgb(240,242,248);"></div>
<div class="r" style="left:48px;top:384px;width:16px;height:14px;background:rgb(239,241,247);"></div>
<div class="r" style="left:64px;top:384px;width:16px;height:14px;background:rgb(240,242,248);"></div>
<div class="r" style="left:80px;top:384px;width:16px;height:14px;background:rgb(238,240,246);"></div>
<div class="r" style="left:96px;top:384px;width:16px;height:14px;background:rgb(241,243,249);"></div>
<div class="r" style="left:112px;top:384px;width:16px;height:14px;background:rgb(245,247,253);"></div>
<div class="r" style="left:128px;top:384px;width:16px;height:14px;background:rgb(244,246,252);"></div>
<div class="r" style="left:144px;top:384px;width:16px;height:14px;background:rgb(242,244,250);"></div>
<div class="r" style="left:160px;top:384px;width:16px;height:14px;background:rgb(244,246,252);"></div>
<div class="r" style="left:176px;top:384px;width:16px;height:14px;background:rgb(241,243,249);"></div>
<div class="r" style="left:192px;top:384px;width:16px;height:14px;background:rgb(238,240,246);"></div>
<svg class="r" style="left:224px;top:375px" width="18" height="18" viewBox="0 0 18 18"><g fill="none" stroke="#969aa8" stroke-width="2.1" stroke-linecap="round" stroke-linejoin="round"><path d="M5.6 4.6 H1.9 Q1 4.6 1 5.5 V15 Q1 15.9 1.9 15.9 H11 Q11.9 15.9 11.9 15 V11.2"/><path d="M6 10.6 L15 1.6"/><path d="M10 1.1 H15.5 V6.8"/></g></svg>
<div class="r" style="left:40px;top:416px;width:16px;height:15px;background:rgb(245,245,245);"></div>
<div class="r" style="left:56px;top:416px;width:16px;height:15px;background:rgb(252,252,252);"></div>
<div class="r" style="left:72px;top:416px;width:16px;height:15px;background:rgb(250,250,250);"></div>
<div class="r" style="left:88px;top:416px;width:16px;height:15px;background:rgb(246,246,246);"></div>
<div class="r" style="left:104px;top:416px;width:16px;height:15px;background:rgb(249,249,249);"></div>
<div class="r" style="left:120px;top:416px;width:16px;height:15px;background:rgb(246,246,246);"></div>
<div class="r" style="left:136px;top:416px;width:16px;height:15px;background:rgb(251,251,251);"></div>
<div class="r" style="left:152px;top:416px;width:16px;height:15px;background:rgb(250,250,250);"></div>
<div class="r" style="left:168px;top:416px;width:16px;height:15px;background:rgb(244,244,244);"></div>
<div class="r" style="left:184px;top:416px;width:16px;height:15px;background:rgb(245,245,245);"></div>
<div class="r" style="left:200px;top:416px;width:16px;height:15px;background:rgb(252,252,252);"></div>
<div class="r" style="left:216px;top:416px;width:4px;height:15px;background:rgb(249,249,249);"></div>
<div class="r" style="left:34px;top:431px;width:16px;height:16px;background:rgb(236,236,236);"></div>
<div class="r" style="left:50px;top:431px;width:16px;height:16px;background:rgb(241,241,241);"></div>
<div class="r" style="left:66px;top:431px;width:16px;height:16px;background:rgb(228,228,228);"></div>
<div class="r" style="left:82px;top:431px;width:16px;height:16px;background:rgb(241,241,241);"></div>
<div class="r" style="left:98px;top:431px;width:16px;height:16px;background:rgb(227,227,227);"></div>
<div class="r" style="left:114px;top:431px;width:16px;height:16px;background:rgb(240,240,240);"></div>
<div class="r" style="left:130px;top:431px;width:16px;height:16px;background:rgb(237,237,237);"></div>
<div class="r" style="left:146px;top:431px;width:16px;height:16px;background:rgb(210,210,210);"></div>
<div class="r" style="left:162px;top:431px;width:16px;height:16px;background:rgb(229,229,229);"></div>
<div class="r" style="left:178px;top:431px;width:16px;height:16px;background:rgb(232,232,232);"></div>
<div class="r" style="left:194px;top:431px;width:16px;height:16px;background:rgb(230,230,230);"></div>
<div class="r" style="left:210px;top:431px;width:16px;height:16px;background:rgb(238,238,238);"></div>
<div class="r" style="left:226px;top:431px;width:16px;height:16px;background:rgb(228,228,228);"></div>
<div class="r" style="left:32px;top:442px;width:16px;height:16px;background:rgb(242,242,242);"></div>
<div class="r" style="left:48px;top:442px;width:16px;height:16px;background:rgb(244,244,244);"></div>
<div class="r" style="left:64px;top:442px;width:16px;height:16px;background:rgb(240,240,240);"></div>
<div class="r" style="left:80px;top:442px;width:16px;height:16px;background:rgb(238,238,238);"></div>
<div class="r" style="left:96px;top:442px;width:16px;height:16px;background:rgb(242,242,242);"></div>
<div class="r" style="left:112px;top:442px;width:16px;height:16px;background:rgb(244,244,244);"></div>
<div class="r" style="left:128px;top:442px;width:16px;height:16px;background:rgb(240,240,240);"></div>
<div class="r" style="left:144px;top:442px;width:16px;height:16px;background:rgb(242,242,242);"></div>
<div class="r" style="left:160px;top:442px;width:16px;height:16px;background:rgb(241,241,241);"></div>
<div class="r" style="left:176px;top:442px;width:16px;height:16px;background:rgb(246,246,246);"></div>
<div class="r" style="left:192px;top:442px;width:16px;height:16px;background:rgb(242,242,242);"></div>
<div class="r" style="left:208px;top:442px;width:4px;height:16px;background:rgb(239,239,239);"></div>
<div class="r" style="left:32px;top:458px;width:16px;height:16px;background:rgb(223,227,236);"></div>
<div class="r" style="left:48px;top:458px;width:16px;height:16px;background:rgb(222,226,235);"></div>
<div class="r" style="left:64px;top:458px;width:16px;height:16px;background:rgb(223,227,236);"></div>
<div class="r" style="left:80px;top:458px;width:16px;height:16px;background:rgb(223,227,236);"></div>
<div class="r" style="left:96px;top:458px;width:16px;height:16px;background:rgb(224,228,237);"></div>
<div class="r" style="left:112px;top:458px;width:16px;height:16px;background:rgb(231,235,244);"></div>
<div class="r" style="left:128px;top:458px;width:16px;height:16px;background:rgb(224,228,237);"></div>
<div class="r" style="left:144px;top:458px;width:16px;height:16px;background:rgb(221,225,234);"></div>
<div class="r" style="left:160px;top:458px;width:16px;height:16px;background:rgb(228,232,241);"></div>
<div class="r" style="left:176px;top:458px;width:16px;height:16px;background:rgb(234,238,247);"></div>
<div class="r" style="left:192px;top:458px;width:16px;height:16px;background:rgb(230,234,243);"></div>
<svg class="r" style="left:224px;top:454px" width="18" height="18" viewBox="0 0 18 18"><g fill="none" stroke="#969aa8" stroke-width="2.1" stroke-linecap="round" stroke-linejoin="round"><path d="M5.6 4.6 H1.9 Q1 4.6 1 5.5 V15 Q1 15.9 1.9 15.9 H11 Q11.9 15.9 11.9 15 V11.2"/><path d="M6 10.6 L15 1.6"/><path d="M10 1.1 H15.5 V6.8"/></g></svg>
<div class="r" style="left:32px;top:510px;width:16px;height:15px;background:rgb(231,231,231);"></div>
<div class="r" style="left:48px;top:510px;width:16px;height:15px;background:rgb(226,226,226);"></div>
<div class="r" style="left:64px;top:510px;width:16px;height:15px;background:rgb(217,217,217);"></div>
<div class="r" style="left:80px;top:510px;width:16px;height:15px;background:rgb(210,210,210);"></div>
<div class="r" style="left:96px;top:510px;width:16px;height:15px;background:rgb(215,215,215);"></div>
<div class="r" style="left:112px;top:510px;width:16px;height:15px;background:rgb(238,238,238);"></div>
<div class="r" style="left:128px;top:510px;width:16px;height:15px;background:rgb(238,238,238);"></div>
<div class="r" style="left:144px;top:510px;width:16px;height:15px;background:rgb(238,238,238);"></div>
<div class="r" style="left:160px;top:510px;width:16px;height:15px;background:rgb(228,228,228);"></div>
<div class="r" style="left:176px;top:510px;width:16px;height:15px;background:rgb(231,231,231);"></div>
<div class="r" style="left:192px;top:510px;width:16px;height:15px;background:rgb(227,227,227);"></div>
<div class="r" style="left:208px;top:510px;width:16px;height:15px;background:rgb(230,230,230);"></div>
<div class="r" style="left:224px;top:510px;width:16px;height:15px;background:rgb(237,237,237);"></div>
<div class="r" style="left:26px;top:525px;width:16px;height:15px;background:rgb(222,226,235);"></div>
<div class="r" style="left:42px;top:525px;width:16px;height:15px;background:rgb(234,238,247);"></div>
<div class="r" style="left:58px;top:525px;width:16px;height:15px;background:rgb(224,228,237);"></div>
<div class="r" style="left:74px;top:525px;width:16px;height:15px;background:rgb(230,234,243);"></div>
<div class="r" style="left:90px;top:525px;width:16px;height:15px;background:rgb(227,231,240);"></div>
<div class="r" style="left:106px;top:525px;width:16px;height:15px;background:rgb(223,227,236);"></div>
<div class="r" style="left:122px;top:525px;width:16px;height:15px;background:rgb(231,235,244);"></div>
<div class="r" style="left:138px;top:525px;width:16px;height:15px;background:rgb(225,229,238);"></div>
<div class="r" style="left:154px;top:525px;width:16px;height:15px;background:rgb(226,230,239);"></div>
<div class="r" style="left:170px;top:525px;width:16px;height:15px;background:rgb(230,234,243);"></div>
<div class="r" style="left:186px;top:525px;width:16px;height:15px;background:rgb(226,230,239);"></div>
<div class="r" style="left:202px;top:525px;width:10px;height:15px;background:rgb(228,232,241);"></div>
<div class="r" style="left:42px;top:540px;width:16px;height:16px;background:rgb(238,240,246);"></div>
<div class="r" style="left:58px;top:540px;width:16px;height:16px;background:rgb(238,240,246);"></div>
<div class="r" style="left:74px;top:540px;width:16px;height:16px;background:rgb(244,246,252);"></div>
<div class="r" style="left:90px;top:540px;width:16px;height:16px;background:rgb(244,246,252);"></div>
<div class="r" style="left:106px;top:540px;width:16px;height:16px;background:rgb(244,246,252);"></div>
<div class="r" style="left:122px;top:540px;width:16px;height:16px;background:rgb(244,246,252);"></div>
<div class="r" style="left:138px;top:540px;width:16px;height:16px;background:rgb(241,243,249);"></div>
<div class="r" style="left:154px;top:540px;width:16px;height:16px;background:rgb(238,240,246);"></div>
<div class="r" style="left:170px;top:540px;width:16px;height:16px;background:rgb(239,241,247);"></div>
<div class="r" style="left:186px;top:540px;width:16px;height:16px;background:rgb(238,240,246);"></div>
<div class="r" style="left:202px;top:540px;width:14px;height:16px;background:rgb(242,244,250);"></div>
<svg class="r" style="left:224px;top:533px" width="18" height="18" viewBox="0 0 18 18"><g fill="none" stroke="#969aa8" stroke-width="2.1" stroke-linecap="round" stroke-linejoin="round"><path d="M5.6 4.6 H1.9 Q1 4.6 1 5.5 V15 Q1 15.9 1.9 15.9 H11 Q11.9 15.9 11.9 15 V11.2"/><path d="M6 10.6 L15 1.6"/><path d="M10 1.1 H15.5 V6.8"/></g></svg>
<div class="r" style="left:32px;top:576px;width:16px;height:16px;background:rgb(248,248,248);"></div>
<div class="r" style="left:48px;top:576px;width:16px;height:16px;background:rgb(251,251,251);"></div>
<div class="r" style="left:64px;top:576px;width:16px;height:16px;background:rgb(246,246,246);"></div>
<div class="r" style="left:80px;top:576px;width:16px;height:16px;background:rgb(252,252,252);"></div>
<div class="r" style="left:96px;top:576px;width:16px;height:16px;background:rgb(244,244,244);"></div>
<div class="r" style="left:112px;top:576px;width:16px;height:16px;background:rgb(247,247,247);"></div>
<div class="r" style="left:128px;top:576px;width:16px;height:16px;background:rgb(252,252,252);"></div>
<div class="r" style="left:144px;top:576px;width:16px;height:16px;background:rgb(249,249,249);"></div>
<div class="r" style="left:160px;top:576px;width:16px;height:16px;background:rgb(246,246,246);"></div>
<div class="r" style="left:176px;top:576px;width:16px;height:16px;background:rgb(252,252,252);"></div>
<div class="r" style="left:32px;top:592px;width:16px;height:13px;background:rgb(220,220,220);"></div>
<div class="r" style="left:48px;top:592px;width:16px;height:13px;background:rgb(235,235,235);"></div>
<div class="r" style="left:64px;top:592px;width:16px;height:13px;background:rgb(234,234,234);"></div>
<div class="r" style="left:80px;top:592px;width:16px;height:13px;background:rgb(231,231,231);"></div>
<div class="r" style="left:96px;top:592px;width:16px;height:13px;background:rgb(242,242,242);"></div>
<div class="r" style="left:112px;top:592px;width:16px;height:13px;background:rgb(232,232,232);"></div>
<div class="r" style="left:128px;top:592px;width:16px;height:13px;background:rgb(238,238,238);"></div>
<div class="r" style="left:144px;top:592px;width:16px;height:13px;background:rgb(232,232,232);"></div>
<div class="r" style="left:160px;top:592px;width:16px;height:13px;background:rgb(237,237,237);"></div>
<div class="r" style="left:176px;top:592px;width:16px;height:13px;background:rgb(226,226,226);"></div>
<div class="r" style="left:192px;top:592px;width:16px;height:13px;background:rgb(241,241,241);"></div>
<div class="r" style="left:208px;top:592px;width:16px;height:13px;background:rgb(237,237,237);"></div>
<div class="r" style="left:224px;top:592px;width:16px;height:13px;background:rgb(237,237,237);"></div>
<div class="r" style="left:32px;top:605px;width:16px;height:16px;background:rgb(222,226,235);"></div>
<div class="r" style="left:48px;top:605px;width:16px;height:16px;background:rgb(224,228,237);"></div>
<div class="r" style="left:64px;top:605px;width:16px;height:16px;background:rgb(228,232,241);"></div>
<div class="r" style="left:80px;top:605px;width:16px;height:16px;background:rgb(224,228,237);"></div>
<div class="r" style="left:96px;top:605px;width:16px;height:16px;background:rgb(226,230,239);"></div>
<div class="r" style="left:112px;top:605px;width:16px;height:16px;background:rgb(224,228,237);"></div>
<div class="r" style="left:128px;top:605px;width:16px;height:16px;background:rgb(228,232,241);"></div>
<div class="r" style="left:144px;top:605px;width:16px;height:16px;background:rgb(230,234,243);"></div>
<div class="r" style="left:160px;top:605px;width:16px;height:16px;background:rgb(230,234,243);"></div>
<div class="r" style="left:176px;top:605px;width:16px;height:16px;background:rgb(234,238,247);"></div>
<div class="r" style="left:192px;top:605px;width:16px;height:16px;background:rgb(221,225,234);"></div>
<div class="r" style="left:208px;top:605px;width:16px;height:16px;background:rgb(251,251,251);"></div>
<div class="r" style="left:32px;top:621px;width:16px;height:14px;background:rgb(242,244,250);"></div>
<div class="r" style="left:48px;top:621px;width:16px;height:14px;background:rgb(238,240,246);"></div>
<div class="r" style="left:64px;top:621px;width:16px;height:14px;background:rgb(238,240,246);"></div>
<div class="r" style="left:80px;top:621px;width:16px;height:14px;background:rgb(243,245,251);"></div>
<div class="r" style="left:96px;top:621px;width:16px;height:14px;background:rgb(240,242,248);"></div>
<div class="r" style="left:112px;top:621px;width:16px;height:14px;background:rgb(244,246,252);"></div>
<div class="r" style="left:128px;top:621px;width:16px;height:14px;background:rgb(239,241,247);"></div>
<div class="r" style="left:144px;top:621px;width:16px;height:14px;background:rgb(243,245,251);"></div>
<div class="r" style="left:160px;top:621px;width:16px;height:14px;background:rgb(242,244,250);"></div>
<div class="r" style="left:176px;top:621px;width:16px;height:14px;background:rgb(238,240,246);"></div>
<div class="r" style="left:192px;top:621px;width:16px;height:14px;background:rgb(243,245,251);"></div>
<svg class="r" style="left:224px;top:612px" width="18" height="18" viewBox="0 0 18 18"><g fill="none" stroke="#969aa8" stroke-width="2.1" stroke-linecap="round" stroke-linejoin="round"><path d="M5.6 4.6 H1.9 Q1 4.6 1 5.5 V15 Q1 15.9 1.9 15.9 H11 Q11.9 15.9 11.9 15 V11.2"/><path d="M6 10.6 L15 1.6"/><path d="M10 1.1 H15.5 V6.8"/></g></svg>
<div class="r" style="left:30px;top:660px;width:16px;height:15px;background:rgb(243,243,243);"></div>
<div class="r" style="left:46px;top:660px;width:16px;height:15px;background:rgb(242,242,242);"></div>
<div class="r" style="left:62px;top:660px;width:16px;height:15px;background:rgb(237,237,237);"></div>
<div class="r" style="left:78px;top:660px;width:16px;height:15px;background:rgb(238,238,238);"></div>
<div class="r" style="left:94px;top:660px;width:16px;height:15px;background:rgb(238,238,238);"></div>
<div class="r" style="left:110px;top:660px;width:16px;height:15px;background:rgb(238,238,238);"></div>
<div class="r" style="left:126px;top:660px;width:16px;height:15px;background:rgb(236,236,236);"></div>
<div class="r" style="left:142px;top:660px;width:16px;height:15px;background:rgb(238,238,238);"></div>
<div class="r" style="left:158px;top:660px;width:16px;height:15px;background:rgb(245,245,245);"></div>
<div class="r" style="left:174px;top:660px;width:16px;height:15px;background:rgb(243,243,243);"></div>
<div class="r" style="left:190px;top:660px;width:16px;height:15px;background:rgb(246,246,246);"></div>
<div class="r" style="left:206px;top:660px;width:16px;height:15px;background:rgb(238,238,238);"></div>
<div class="r" style="left:30px;top:675px;width:16px;height:9px;background:rgb(241,241,241);"></div>
<div class="r" style="left:46px;top:675px;width:16px;height:9px;background:rgb(216,216,216);"></div>
<div class="r" style="left:62px;top:675px;width:16px;height:9px;background:rgb(230,230,230);"></div>
<div class="r" style="left:78px;top:675px;width:16px;height:9px;background:rgb(229,229,229);"></div>
<div class="r" style="left:94px;top:675px;width:16px;height:9px;background:rgb(239,239,239);"></div>
<div class="r" style="left:110px;top:675px;width:16px;height:9px;background:rgb(226,226,226);"></div>
<div class="r" style="left:126px;top:675px;width:16px;height:9px;background:rgb(235,235,235);"></div>
<div class="r" style="left:142px;top:675px;width:16px;height:9px;background:rgb(212,212,212);"></div>
<div class="r" style="left:158px;top:675px;width:16px;height:9px;background:rgb(239,239,239);"></div>
<div class="r" style="left:174px;top:675px;width:16px;height:9px;background:rgb(215,215,215);"></div>
<div class="r" style="left:190px;top:675px;width:16px;height:9px;background:rgb(214,214,214);"></div>
<div class="r" style="left:206px;top:675px;width:16px;height:9px;background:rgb(230,230,230);"></div>
<div class="r" style="left:222px;top:675px;width:16px;height:9px;background:rgb(242,242,242);"></div>
<div class="r" style="left:238px;top:675px;width:2px;height:9px;background:rgb(240,240,240);"></div>
<div class="r" style="left:34px;top:684px;width:16px;height:16px;background:rgb(230,234,243);"></div>
<div class="r" style="left:50px;top:684px;width:16px;height:16px;background:rgb(221,225,234);"></div>
<div class="r" style="left:66px;top:684px;width:16px;height:16px;background:rgb(233,237,246);"></div>
<div class="r" style="left:82px;top:684px;width:16px;height:16px;background:rgb(233,237,246);"></div>
<div class="r" style="left:98px;top:684px;width:16px;height:16px;background:rgb(223,227,236);"></div>
<div class="r" style="left:114px;top:684px;width:16px;height:16px;background:rgb(223,227,236);"></div>
<div class="r" style="left:130px;top:684px;width:16px;height:16px;background:rgb(223,227,236);"></div>
<div class="r" style="left:146px;top:684px;width:16px;height:16px;background:rgb(228,232,241);"></div>
<div class="r" style="left:162px;top:684px;width:16px;height:16px;background:rgb(230,234,243);"></div>
<div class="r" style="left:178px;top:684px;width:16px;height:16px;background:rgb(232,236,245);"></div>
<div class="r" style="left:194px;top:684px;width:16px;height:16px;background:rgb(222,226,235);"></div>
<div class="r" style="left:210px;top:684px;width:16px;height:16px;background:rgb(252,252,252);"></div>
<div class="r" style="left:226px;top:684px;width:10px;height:16px;background:rgb(244,244,244);"></div>
<div class="r" style="left:34px;top:700px;width:16px;height:12px;background:rgb(242,244,250);"></div>
<div class="r" style="left:50px;top:700px;width:16px;height:12px;background:rgb(245,247,253);"></div>
<div class="r" style="left:66px;top:700px;width:16px;height:12px;background:rgb(245,247,253);"></div>
<div class="r" style="left:82px;top:700px;width:16px;height:12px;background:rgb(245,247,253);"></div>
<div class="r" style="left:98px;top:700px;width:16px;height:12px;background:rgb(244,246,252);"></div>
<div class="r" style="left:114px;top:700px;width:16px;height:12px;background:rgb(238,240,246);"></div>
<div class="r" style="left:130px;top:700px;width:16px;height:12px;background:rgb(245,247,253);"></div>
<div class="r" style="left:146px;top:700px;width:16px;height:12px;background:rgb(237,239,245);"></div>
<div class="r" style="left:162px;top:700px;width:16px;height:12px;background:rgb(240,242,248);"></div>
<div class="r" style="left:178px;top:700px;width:16px;height:12px;background:rgb(240,242,248);"></div>
<div class="r" style="left:194px;top:700px;width:16px;height:12px;background:rgb(241,243,249);"></div>
<svg class="r" style="left:224px;top:691px" width="18" height="18" viewBox="0 0 18 18"><g fill="none" stroke="#969aa8" stroke-width="2.1" stroke-linecap="round" stroke-linejoin="round"><path d="M5.6 4.6 H1.9 Q1 4.6 1 5.5 V15 Q1 15.9 1.9 15.9 H11 Q11.9 15.9 11.9 15 V11.2"/><path d="M6 10.6 L15 1.6"/><path d="M10 1.1 H15.5 V6.8"/></g></svg>
<div class="r" style="left:32px;top:733px;width:16px;height:16px;background:rgb(236,236,236);"></div>
<div class="r" style="left:48px;top:733px;width:16px;height:16px;background:rgb(237,237,237);"></div>
<div class="r" style="left:64px;top:733px;width:16px;height:16px;background:rgb(244,244,244);"></div>
<div class="r" style="left:80px;top:733px;width:16px;height:16px;background:rgb(243,243,243);"></div>
<div class="r" style="left:96px;top:733px;width:16px;height:16px;background:rgb(244,244,244);"></div>
<div class="r" style="left:112px;top:733px;width:16px;height:16px;background:rgb(236,236,236);"></div>
<div class="r" style="left:128px;top:733px;width:16px;height:16px;background:rgb(237,237,237);"></div>
<div class="r" style="left:144px;top:733px;width:16px;height:16px;background:rgb(243,243,243);"></div>
<div class="r" style="left:160px;top:733px;width:16px;height:16px;background:rgb(241,241,241);"></div>
<div class="r" style="left:176px;top:733px;width:16px;height:16px;background:rgb(245,245,245);"></div>
<div class="r" style="left:192px;top:733px;width:16px;height:16px;background:rgb(244,244,244);"></div>
<div class="r" style="left:208px;top:733px;width:14px;height:16px;background:rgb(245,245,245);"></div>
<div class="r" style="left:32px;top:749px;width:16px;height:9px;background:rgb(242,242,242);"></div>
<div class="r" style="left:48px;top:749px;width:16px;height:9px;background:rgb(216,216,216);"></div>
<div class="r" style="left:64px;top:749px;width:16px;height:9px;background:rgb(241,241,241);"></div>
<div class="r" style="left:80px;top:749px;width:16px;height:9px;background:rgb(212,212,212);"></div>
<div class="r" style="left:96px;top:749px;width:16px;height:9px;background:rgb(232,232,232);"></div>
<div class="r" style="left:112px;top:749px;width:16px;height:9px;background:rgb(239,239,239);"></div>
<div class="r" style="left:128px;top:749px;width:16px;height:9px;background:rgb(240,240,240);"></div>
<div class="r" style="left:144px;top:749px;width:16px;height:9px;background:rgb(233,233,233);"></div>
<div class="r" style="left:160px;top:749px;width:16px;height:9px;background:rgb(232,232,232);"></div>
<div class="r" style="left:176px;top:749px;width:16px;height:9px;background:rgb(229,229,229);"></div>
<div class="r" style="left:192px;top:749px;width:16px;height:9px;background:rgb(237,237,237);"></div>
<div class="r" style="left:208px;top:749px;width:16px;height:9px;background:rgb(230,230,230);"></div>
<div class="r" style="left:224px;top:749px;width:16px;height:9px;background:rgb(229,229,229);"></div>
<div class="r" style="left:36px;top:758px;width:16px;height:16px;background:rgb(223,227,236);"></div>
<div class="r" style="left:52px;top:758px;width:16px;height:16px;background:rgb(231,235,244);"></div>
<div class="r" style="left:68px;top:758px;width:16px;height:16px;background:rgb(234,238,247);"></div>
<div class="r" style="left:84px;top:758px;width:16px;height:16px;background:rgb(224,228,237);"></div>
<div class="r" style="left:100px;top:758px;width:16px;height:16px;background:rgb(223,227,236);"></div>
<div class="r" style="left:116px;top:758px;width:16px;height:16px;background:rgb(232,236,245);"></div>
<div class="r" style="left:132px;top:758px;width:16px;height:16px;background:rgb(227,231,240);"></div>
<div class="r" style="left:148px;top:758px;width:16px;height:16px;background:rgb(229,233,242);"></div>
<div class="r" style="left:164px;top:758px;width:16px;height:16px;background:rgb(227,231,240);"></div>
<div class="r" style="left:180px;top:758px;width:16px;height:16px;background:rgb(226,230,239);"></div>
<div class="r" style="left:196px;top:758px;width:14px;height:16px;background:rgb(227,231,240);"></div>
<div class="r" style="left:210px;top:758px;width:16px;height:16px;background:rgb(247,247,247);"></div>
<div class="r" style="left:226px;top:758px;width:10px;height:16px;background:rgb(249,249,249);"></div>
<div class="r" style="left:36px;top:774px;width:16px;height:12px;background:rgb(242,244,250);"></div>
<div class="r" style="left:52px;top:774px;width:16px;height:12px;background:rgb(238,240,246);"></div>
<div class="r" style="left:68px;top:774px;width:16px;height:12px;background:rgb(242,244,250);"></div>
<div class="r" style="left:84px;top:774px;width:16px;height:12px;background:rgb(237,239,245);"></div>
<div class="r" style="left:100px;top:774px;width:16px;height:12px;background:rgb(242,244,250);"></div>
<div class="r" style="left:116px;top:774px;width:16px;height:12px;background:rgb(245,247,253);"></div>
<div class="r" style="left:132px;top:774px;width:16px;height:12px;background:rgb(244,246,252);"></div>
<div class="r" style="left:148px;top:774px;width:16px;height:12px;background:rgb(244,246,252);"></div>
<div class="r" style="left:164px;top:774px;width:16px;height:12px;background:rgb(237,239,245);"></div>
<div class="r" style="left:180px;top:774px;width:16px;height:12px;background:rgb(243,245,251);"></div>
<div class="r" style="left:196px;top:774px;width:14px;height:12px;background:rgb(242,244,250);"></div>
<svg class="r" style="left:224px;top:770px" width="18" height="18" viewBox="0 0 18 18"><g fill="none" stroke="#969aa8" stroke-width="2.1" stroke-linecap="round" stroke-linejoin="round"><path d="M5.6 4.6 H1.9 Q1 4.6 1 5.5 V15 Q1 15.9 1.9 15.9 H11 Q11.9 15.9 11.9 15 V11.2"/><path d="M6 10.6 L15 1.6"/><path d="M10 1.1 H15.5 V6.8"/></g></svg>
<div class="r" style="left:30px;top:813px;width:16px;height:15px;background:rgb(244,244,244);"></div>
<div class="r" style="left:46px;top:813px;width:16px;height:15px;background:rgb(245,245,245);"></div>
<div class="r" style="left:62px;top:813px;width:16px;height:15px;background:rgb(240,240,240);"></div>
<div class="r" style="left:78px;top:813px;width:16px;height:15px;background:rgb(244,244,244);"></div>
<div class="r" style="left:94px;top:813px;width:16px;height:15px;background:rgb(237,237,237);"></div>
<div class="r" style="left:110px;top:813px;width:16px;height:15px;background:rgb(237,237,237);"></div>
<div class="r" style="left:126px;top:813px;width:16px;height:15px;background:rgb(239,239,239);"></div>
<div class="r" style="left:142px;top:813px;width:16px;height:15px;background:rgb(237,237,237);"></div>
<div class="r" style="left:158px;top:813px;width:16px;height:15px;background:rgb(237,237,237);"></div>
<div class="r" style="left:174px;top:813px;width:16px;height:15px;background:rgb(240,240,240);"></div>
<div class="r" style="left:190px;top:813px;width:16px;height:15px;background:rgb(240,240,240);"></div>
<div class="r" style="left:206px;top:813px;width:16px;height:15px;background:rgb(236,236,236);"></div>
<div class="r" style="left:30px;top:828px;width:16px;height:9px;background:rgb(231,231,231);"></div>
<div class="r" style="left:46px;top:828px;width:16px;height:9px;background:rgb(239,239,239);"></div>
<div class="r" style="left:62px;top:828px;width:16px;height:9px;background:rgb(210,210,210);"></div>
<div class="r" style="left:78px;top:828px;width:16px;height:9px;background:rgb(242,242,242);"></div>
<div class="r" style="left:94px;top:828px;width:16px;height:9px;background:rgb(236,236,236);"></div>
<div class="r" style="left:110px;top:828px;width:16px;height:9px;background:rgb(227,227,227);"></div>
<div class="r" style="left:126px;top:828px;width:16px;height:9px;background:rgb(239,239,239);"></div>
<div class="r" style="left:142px;top:828px;width:16px;height:9px;background:rgb(226,226,226);"></div>
<div class="r" style="left:158px;top:828px;width:16px;height:9px;background:rgb(209,209,209);"></div>
<div class="r" style="left:174px;top:828px;width:16px;height:9px;background:rgb(233,233,233);"></div>
<div class="r" style="left:190px;top:828px;width:16px;height:9px;background:rgb(229,229,229);"></div>
<div class="r" style="left:206px;top:828px;width:16px;height:9px;background:rgb(236,236,236);"></div>
<div class="r" style="left:222px;top:828px;width:14px;height:9px;background:rgb(234,234,234);"></div>
<div class="r" style="left:30px;top:837px;width:16px;height:16px;background:rgb(221,225,234);"></div>
<div class="r" style="left:46px;top:837px;width:16px;height:16px;background:rgb(229,233,242);"></div>
<div class="r" style="left:62px;top:837px;width:16px;height:16px;background:rgb(232,236,245);"></div>
<div class="r" style="left:78px;top:837px;width:16px;height:16px;background:rgb(224,228,237);"></div>
<div class="r" style="left:94px;top:837px;width:16px;height:16px;background:rgb(222,226,235);"></div>
<div class="r" style="left:110px;top:837px;width:16px;height:16px;background:rgb(223,227,236);"></div>
<div class="r" style="left:126px;top:837px;width:16px;height:16px;background:rgb(225,229,238);"></div>
<div class="r" style="left:142px;top:837px;width:16px;height:16px;background:rgb(221,225,234);"></div>
<div class="r" style="left:158px;top:837px;width:16px;height:16px;background:rgb(223,227,236);"></div>
<div class="r" style="left:174px;top:837px;width:16px;height:16px;background:rgb(224,228,237);"></div>
<div class="r" style="left:190px;top:837px;width:16px;height:16px;background:rgb(225,229,238);"></div>
<div class="r" style="left:206px;top:837px;width:6px;height:16px;background:rgb(231,235,244);"></div>
<div class="r" style="left:212px;top:837px;width:16px;height:16px;background:rgb(248,248,248);"></div>
<div class="r" style="left:228px;top:837px;width:2px;height:16px;background:rgb(252,252,252);"></div>
<div class="r" style="left:30px;top:853px;width:16px;height:12px;background:rgb(240,242,248);"></div>
<div class="r" style="left:46px;top:853px;width:16px;height:12px;background:rgb(241,243,249);"></div>
<div class="r" style="left:62px;top:853px;width:16px;height:12px;background:rgb(244,246,252);"></div>
<div class="r" style="left:78px;top:853px;width:16px;height:12px;background:rgb(245,247,253);"></div>
<div class="r" style="left:94px;top:853px;width:16px;height:12px;background:rgb(239,241,247);"></div>
<div class="r" style="left:110px;top:853px;width:16px;height:12px;background:rgb(241,243,249);"></div>
<div class="r" style="left:126px;top:853px;width:16px;height:12px;background:rgb(242,244,250);"></div>
<div class="r" style="left:142px;top:853px;width:16px;height:12px;background:rgb(237,239,245);"></div>
<div class="r" style="left:158px;top:853px;width:16px;height:12px;background:rgb(241,243,249);"></div>
<div class="r" style="left:174px;top:853px;width:16px;height:12px;background:rgb(237,239,245);"></div>
<div class="r" style="left:190px;top:853px;width:16px;height:12px;background:rgb(237,239,245);"></div>
<div class="r" style="left:206px;top:853px;width:2px;height:12px;background:rgb(237,239,245);"></div>
<svg class="r" style="left:224px;top:849px" width="18" height="18" viewBox="0 0 18 18"><g fill="none" stroke="#969aa8" stroke-width="2.1" stroke-linecap="round" stroke-linejoin="round"><path d="M5.6 4.6 H1.9 Q1 4.6 1 5.5 V15 Q1 15.9 1.9 15.9 H11 Q11.9 15.9 11.9 15 V11.2"/><path d="M6 10.6 L15 1.6"/><path d="M10 1.1 H15.5 V6.8"/></g></svg>
<div class="r" style="left:673px;top:228.5px;width:567px;height:11.5px;background:#b079f8;"></div>
<div class="r" style="left:673px;top:228.5px;width:11.5px;height:700px;background:#b079f8;"></div>
<div class="r" style="left:1228.5px;top:228.5px;width:11.5px;height:700px;background:#b079f8;"></div>
<div class="r" style="left:1030px;top:326px;width:177px;height:5.5px;background:#b079f8;border-radius:1px"></div>
<svg class="r" style="left:0;top:0" width="1537" height="880" viewBox="0 0 1537 880"><path d="M1102.5 270 L1102.5 238 C1102.5 200 1105.5 166.5 1117.5 166.5 C1124.5 166.5 1130.5 173 1135.8 180.5" fill="none" stroke="#b079f8" stroke-width="4.9"/><path d="M1089 265.5 L1116.5 265.5 L1103 293 Z" fill="#b079f8"/></svg>
</body></html>
